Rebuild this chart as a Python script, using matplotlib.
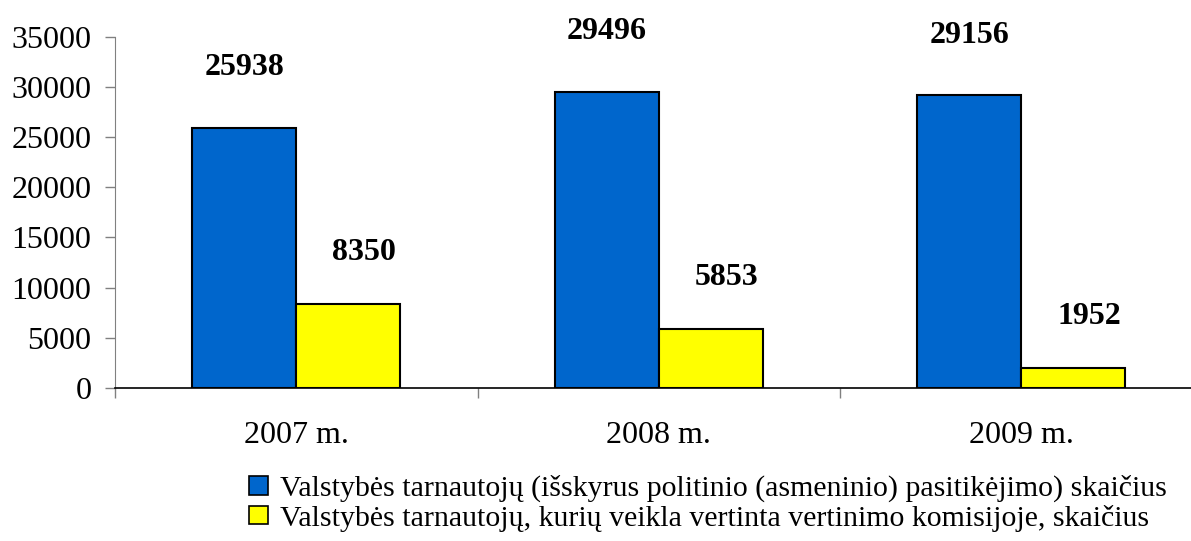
import numpy as np
import matplotlib
matplotlib.use('Agg')
import matplotlib.pyplot as plt
from matplotlib.patches import Patch

# Data
years = ['2007 m.', '2008 m.', '2009 m.']
total_servants = [25938, 29496, 29156]
evaluated_servants = [8350, 5853, 1952]
series_labels = [
    'Valstybės tarnautojų (išskyrus politinio (asmeninio) pasitikėjimo) skaičius',
    'Valstybės tarnautojų, kurių veikla vertinta vertinimo komisijoje, skaičius',
]

BLUE = '#0066CC'
YELLOW = '#FFFF00'

plt.rcParams['font.family'] = ['Liberation Serif', 'DejaVu Serif']

fig = plt.figure(figsize=(11.91, 5.41), dpi=100)
# axes extends slightly past the right edge, like the source
ax = fig.add_axes([115 / 1191, 0.2828, 1087.5 / 1191, 0.6495])

x = np.arange(len(years))
w = 0.287
b1 = ax.bar(x - w / 2, total_servants, w, color=BLUE, edgecolor='black', linewidth=1.5)
b2 = ax.bar(x + w / 2, evaluated_servants, w, color=YELLOW, edgecolor='black', linewidth=1.5)

# value labels above the bars
for rect, v in zip(b1, total_servants):
    ax.annotate(str(v), (rect.get_x() + rect.get_width() / 2, v),
                xytext=(0, 60), textcoords='offset pixels',
                ha='center', va='center', fontsize=23, fontweight='bold')
for rect, v in zip(b2, evaluated_servants):
    ax.annotate(str(v), (rect.get_x() + rect.get_width() / 2, v),
                xytext=(16, 52), textcoords='offset pixels',
                ha='center', va='center', fontsize=23, fontweight='bold')

ax.set_xlim(-0.5, len(years) - 0.5)
ax.set_ylim(0, 35000)
ax.set_yticks(np.arange(0, 35001, 5000))
ax.tick_params(axis='y', labelsize=23, length=7, width=1, color='#808080',
               direction='out', pad=10)

ax.set_xticks(x)
ax.set_xticklabels(years)
ax.set_xticks(np.arange(-0.5, len(years), 1.0), minor=True)
ax.tick_params(axis='x', which='major', length=0, labelsize=23, pad=24)
ax.tick_params(axis='x', which='minor', length=7, width=1, color='#808080',
               direction='out')

for s in ['top', 'right']:
    ax.spines[s].set_visible(False)
ax.spines['left'].set_color('#808080')
ax.spines['bottom'].set_color('black')
ax.spines['bottom'].set_linewidth(1.2)

handles = [Patch(facecolor=BLUE, edgecolor='black', linewidth=1.2),
           Patch(facecolor=YELLOW, edgecolor='black', linewidth=1.2)]
fig.legend(handles, series_labels, loc='upper left',
           bbox_to_anchor=(249 / 1191, 1 - 475 / 541), frameon=False,
           fontsize=21.5, handlelength=0.64, handleheight=0.58,
           handletextpad=0.4, labelspacing=0.08, borderaxespad=0, borderpad=0)

fig.savefig('out.png', dpi=100)
